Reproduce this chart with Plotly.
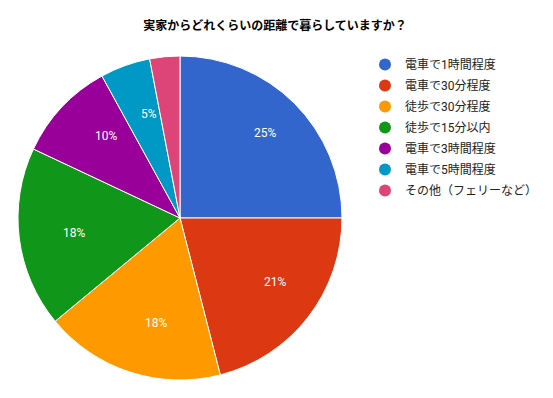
import math
import plotly.graph_objects as go

title = "実家からどれくらいの距離で暮らしていますか？"
categories = ["電車で1時間程度", "電車で30分程度", "徒歩で30分程度", "徒歩で15分以内",
              "電車で3時間程度", "電車で5時間程度", "その他（フェリーなど）"]
values = [25, 21, 18, 18, 10, 5, 3]
colors = ["#3366cc", "#dc3912", "#ff9900", "#109618", "#990099", "#0099c6", "#dd4477"]

W, H = 553, 398
font_family = "Roboto, 'Noto Sans CJK JP', sans-serif"

# pie geometry in pixels
cx, cy, R = 180, 218, 162
label_r = 0.74 * R
min_label_share = 0.05

fig = go.Figure()
fig.add_trace(go.Pie(
    labels=categories, values=values, sort=False, direction="clockwise", rotation=0,
    marker=dict(colors=colors, line=dict(color="white", width=1)),
    textinfo="none", showlegend=False, hoverinfo="label+percent",
    domain=dict(x=[(cx - R) / W, (cx + R) / W], y=[1 - (cy + R) / H, 1 - (cy - R) / H]),
))
for c, col in zip(categories, colors):
    fig.add_trace(go.Scatter(x=[None], y=[None], mode="markers", name=c, legendgroup=c,
                             marker=dict(symbol="circle", size=12, color=col)))

total = sum(values)
cum = 0
annotations = []
for v in values:
    share = v / total
    theta = 2 * math.pi * (cum + v / 2) / total
    cum += v
    if share < min_label_share:
        continue
    px = cx + label_r * math.sin(theta)
    py = cy - label_r * math.cos(theta)
    annotations.append(dict(x=px / W, y=1 - py / H, xref="paper", yref="paper",
                            text=f"{round(share * 100)}%", showarrow=False,
                            font=dict(color="white", size=12, family=font_family)))

fig.update_layout(
    width=W, height=H, margin=dict(l=0, r=0, t=0, b=0),
    paper_bgcolor="white", plot_bgcolor="white",
    title=dict(text=f"<b>{title}</b>", x=275 / W, xanchor="center", y=1 - 26 / H, yanchor="middle",
               font=dict(size=12, color="#000", family=font_family)),
    xaxis=dict(visible=False), yaxis=dict(visible=False),
    annotations=annotations,
    legend=dict(x=365 / W, y=1 - 50 / H, xanchor="left", yanchor="top",
                font=dict(size=12, color="#222", family=font_family),
                tracegroupgap=2, itemsizing="constant", bgcolor="rgba(0,0,0,0)"),
)
fig.write_html("out.html", config={"displayModeBar": False},
               post_script="document.body.style.margin='0';")
